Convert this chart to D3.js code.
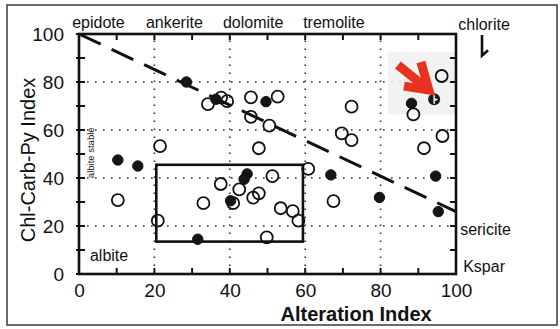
<!DOCTYPE html>
<html>
<head>
<meta charset="utf-8">
<script src="https://cdn.jsdelivr.net/npm/d3@7"></script>
<style>
  html, body { margin: 0; padding: 0; background: #fff; }
  svg { display: block; font-family: "Liberation Sans", Arial, Helvetica, sans-serif; }
</style>
</head>
<body>
<svg id="chart" width="560" height="329"></svg>
<script>
// Chl-Carb-Py index vs. alteration index (box plot of alteration minerals)
const xTicks = [0, 20, 40, 60, 80, 100];
const yTicks = [0, 20, 40, 60, 80, 100];
const gridValues = [20, 40, 60, 80];
const minorTicks = d3.range(0, 101, 10);

// open symbols: [alteration index, Chl-Carb-Py index]
const openPts = [
  [34.2, 70.8], [37.7, 73.5], [39.3, 72.0], [45.6, 73.6], [52.7, 73.9],
  [45.6, 65.5], [50.5, 61.8], [21.5, 53.3], [47.7, 52.4], [10.3, 30.8],
  [20.9, 22.2], [33.0, 29.5], [37.6, 37.5], [40.9, 29.5], [42.5, 35.3],
  [46.2, 31.8], [47.7, 33.6], [51.3, 40.8], [49.8, 15.3], [53.5, 27.4],
  [56.7, 26.2], [58.2, 22.2], [60.8, 43.8], [67.5, 30.4], [72.3, 69.7],
  [69.7, 58.6], [72.3, 55.8], [96.2, 82.5], [88.7, 66.5], [96.4, 57.5],
  [91.5, 52.4]
];
// filled symbols
const filledPts = [
  [28.5, 80.0], [36.3, 72.8], [49.6, 71.8], [10.3, 47.5], [15.6, 45.0],
  [31.5, 14.5], [40.2, 30.5], [44.6, 41.7], [43.8, 39.5], [66.8, 41.3],
  [79.7, 31.9], [94.6, 40.8], [95.3, 26.0], [88.2, 71.1]
];
// highlighted sample
const halfPts = [[94.2, 72.8]];

// trend line end points and the boxed field
const trendLine = [[0, 100], [100, 26]];
const boxField = { x0: 20.5, x1: 59.4, y0: 13.5, y1: 45.5 };
const highlightBox = { x0: 82, x1: 100, y0: 66.3, y1: 92.5 };
const arrowShaft = [[84.6, 87.1], [91.4, 78.4]];
const arrowHead = [[90.7, 88.3], [92.8, 76.7], [86.2, 78.3]];
const chloriteMark = [[106.9, 99.6], [106.9, 91.0], [108.5, 93.2]];

// mineral labels: [text, x, y, anchor]
const topLabels = [
  ["epidote", -1.8, 102.5, "start"],
  ["ankerite", 25.3, 102.5, "middle"],
  ["dolomite", 46.2, 102.5, "middle"],
  ["tremolite", 67.6, 102.5, "middle"],
  ["chlorite", 100.6, 101.8, "start"]
];
const sideLabels = [
  ["sericite", 101.1, 16.2],
  ["Kspar", 101.9, 0.9],
  ["albite", 2.9, 5.4]
];

const svg = d3.select("#chart");
const W = 560, H = 329;
const m = { left: 79, right: 104, top: 34, bottom: 55 };

const x = d3.scaleLinear().domain([0, 100]).range([m.left, W - m.right]);
const y = d3.scaleLinear().domain([0, 100]).range([H - m.bottom, m.top]);

// outer frame
svg.append("rect")
  .attr("x", 7).attr("y", 5).attr("width", 550).attr("height", 320)
  .attr("fill", "none").attr("stroke", "#3a3a3a").attr("stroke-width", 1.5);

// dotted grid
const grid = svg.append("g").attr("stroke", "#333").attr("stroke-width", 1.6)
  .attr("stroke-dasharray", "1.6,6.4").attr("fill", "none");
grid.selectAll("line.v").data(gridValues).join("line").attr("class", "v")
  .attr("x1", d => x(d)).attr("x2", d => x(d)).attr("y1", y(0)).attr("y2", y(100));
grid.selectAll("line.h").data(gridValues).join("line").attr("class", "h")
  .attr("y1", d => y(d)).attr("y2", d => y(d)).attr("x1", x(0)).attr("x2", x(100));

// light panel behind the highlighted sample
svg.append("rect")
  .attr("x", x(highlightBox.x0)).attr("y", y(highlightBox.y1))
  .attr("width", x(highlightBox.x1) - x(highlightBox.x0))
  .attr("height", y(highlightBox.y0) - y(highlightBox.y1))
  .attr("fill", "#f0f0f0").attr("opacity", 0.85);

// trend line
svg.append("line")
  .attr("x1", x(trendLine[0][0])).attr("y1", y(trendLine[0][1]))
  .attr("x2", x(trendLine[1][0])).attr("y2", y(trendLine[1][1]))
  .attr("stroke", "#111").attr("stroke-width", 3)
  .attr("stroke-dasharray", "24,12");

// boxed field
svg.append("rect")
  .attr("x", x(boxField.x0)).attr("y", y(boxField.y1))
  .attr("width", x(boxField.x1) - x(boxField.x0))
  .attr("height", y(boxField.y0) - y(boxField.y1))
  .attr("fill", "none").attr("stroke", "#111").attr("stroke-width", 2.6);

// plot frame and inward ticks
svg.append("rect")
  .attr("x", x(0)).attr("y", y(100))
  .attr("width", x(100) - x(0)).attr("height", y(0) - y(100))
  .attr("fill", "none").attr("stroke", "#111").attr("stroke-width", 2.6);

const ticks = svg.append("g").attr("stroke", "#111").attr("stroke-width", 2);
const tl = 6;
ticks.selectAll("line.b").data(minorTicks).join("line").attr("class", "b")
  .attr("x1", d => x(d)).attr("x2", d => x(d)).attr("y1", y(0)).attr("y2", y(0) - tl);
ticks.selectAll("line.t").data(minorTicks).join("line").attr("class", "t")
  .attr("x1", d => x(d)).attr("x2", d => x(d)).attr("y1", y(100)).attr("y2", y(100) + tl);
ticks.selectAll("line.l").data(minorTicks).join("line").attr("class", "l")
  .attr("y1", d => y(d)).attr("y2", d => y(d)).attr("x1", x(0) - 3).attr("x2", x(0) + tl);
ticks.selectAll("line.r").data(minorTicks).join("line").attr("class", "r")
  .attr("y1", d => y(d)).attr("y2", d => y(d)).attr("x1", x(100)).attr("x2", x(100) - tl);

// axis labels (ticks drawn above)
const xAxis = svg.append("g").attr("transform", `translate(0,${y(0)})`)
  .call(d3.axisBottom(x).tickValues(xTicks).tickSize(0).tickPadding(10).tickFormat(d3.format("d")));
const yAxis = svg.append("g").attr("transform", `translate(${x(0)},0)`)
  .call(d3.axisLeft(y).tickValues(yTicks).tickSize(0).tickPadding(15).tickFormat(d3.format("d")));
[xAxis, yAxis].forEach(g => {
  g.select(".domain").remove();
  g.selectAll("text").attr("font-size", 19).attr("fill", "#111")
    .attr("font-family", "'Liberation Sans', Arial, sans-serif");
});

// axis titles
svg.append("text")
  .attr("x", x(73.5)).attr("y", 321)
  .attr("text-anchor", "middle").attr("font-size", 20).attr("font-weight", "bold")
  .attr("fill", "#111").text("Alteration Index");
svg.append("text")
  .attr("transform", `translate(35,${(y(0) + y(100)) / 2 + 6}) rotate(-90)`)
  .attr("text-anchor", "middle").attr("font-size", 20)
  .attr("fill", "#111").text("Chl-Carb-Py Index");

// mineral labels
svg.append("g").selectAll("text").data(topLabels).join("text")
  .attr("x", d => x(d[1])).attr("y", d => y(d[2]))
  .attr("text-anchor", d => d[3]).attr("font-size", 16).attr("fill", "#111")
  .text(d => d[0]);
svg.append("g").selectAll("text").data(sideLabels).join("text")
  .attr("x", d => x(d[1])).attr("y", d => y(d[2]))
  .attr("font-size", 16).attr("fill", "#111")
  .text(d => d[0]);
svg.append("text")
  .attr("transform", `translate(${x(4.1)},${y(50.5)}) rotate(-90)`)
  .attr("text-anchor", "middle").attr("font-size", 9.5).attr("fill", "#111")
  .text("albite stable");

// chlorite pointer
svg.append("path")
  .attr("d", d3.line().x(d => x(d[0])).y(d => y(d[1]))(chloriteMark))
  .attr("fill", "none").attr("stroke", "#111").attr("stroke-width", 2.6);

// samples
svg.append("g").selectAll("circle").data(openPts).join("circle")
  .attr("cx", d => x(d[0])).attr("cy", d => y(d[1])).attr("r", 6)
  .attr("fill", "none").attr("stroke", "#111").attr("stroke-width", 1.8);
svg.append("g").selectAll("circle").data(filledPts).join("circle")
  .attr("cx", d => x(d[0])).attr("cy", d => y(d[1])).attr("r", 5.2)
  .attr("fill", "#151515").attr("stroke", "#111").attr("stroke-width", 1);
const half = svg.append("g").selectAll("g").data(halfPts).join("g")
  .attr("transform", d => `translate(${x(d[0])},${y(d[1])})`);
half.append("circle").attr("r", 6).attr("fill", "#1a1a1a");
half.append("line").attr("x1", 0).attr("x2", 0).attr("y1", -4.5).attr("y2", 4.5)
  .attr("stroke", "#fff").attr("stroke-width", 1.4);
half.append("path").attr("d", "M1,-1 L4,0 L1,2 Z").attr("fill", "#fff");

// red pointer arrow
const arrow = svg.append("g").attr("stroke", "#e8321f").attr("stroke-width", 9)
  .attr("fill", "none").attr("stroke-linejoin", "miter");
arrow.append("line")
  .attr("x1", x(arrowShaft[0][0])).attr("y1", y(arrowShaft[0][1]))
  .attr("x2", x(arrowShaft[1][0])).attr("y2", y(arrowShaft[1][1]));
arrow.append("path")
  .attr("d", d3.line().x(d => x(d[0])).y(d => y(d[1]))(arrowHead));
</script>
</body>
</html>
